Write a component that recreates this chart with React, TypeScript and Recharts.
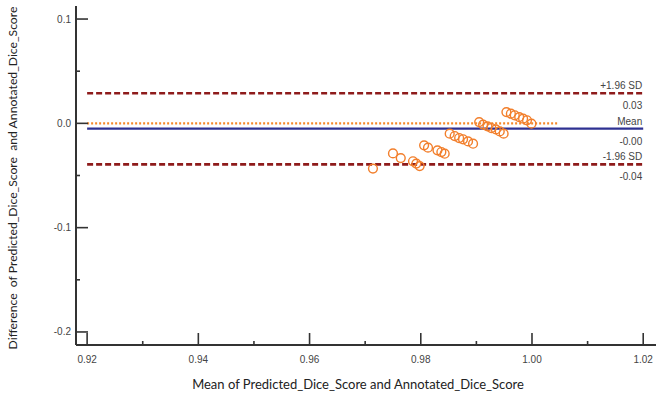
import { Label, ReferenceLine, Scatter, ScatterChart, XAxis, YAxis } from "recharts";

// Bland-Altman points
const meanValues = [
  0.9714, 0.975, 0.9764, 0.9786, 0.9792, 0.9798, 0.9806, 0.9813, 0.983, 0.9837, 0.9843,
  0.9852, 0.9861, 0.9869, 0.9876, 0.9885, 0.9894, 0.9905, 0.9912, 0.992, 0.9927, 0.9935,
  0.9942, 0.9949, 0.9954, 0.9962, 0.9969, 0.9977, 0.9984, 0.9991, 0.9999,
];
const diffValues = [
  -0.0434, -0.0288, -0.0333, -0.0364, -0.0386, -0.041, -0.0211, -0.0233, -0.0259, -0.0275, -0.0291,
  -0.0099, -0.0122, -0.0141, -0.0153, -0.0173, -0.0195, 0.0012, -0.0012, -0.0029, -0.0045, -0.0058,
  -0.0077, -0.0099, 0.0108, 0.0093, 0.0077, 0.006, 0.0045, 0.0029, -0.0003,
];

const xTicks = [0.92, 0.93, 0.94, 0.95, 0.96, 0.97, 0.98, 0.99, 1.0, 1.01, 1.02];
const yTicks = [0.1, 0.05, 0, -0.05, -0.1, -0.15, -0.2];

const upperLimit = 0.0288;
const meanDiff = -0.0051;
const lowerLimit = -0.0393;
const zeroLineEnd = 1.0046;
const lineStart = 0.92;
const lineEnd = 1.02;

const upperLabels = ["+1.96 SD", "0.03"];
const meanLabels = ["Mean", "-0.00"];
const lowerLabels = ["-1.96 SD", "-0.04"];

const xTitle = "Mean of Predicted_Dice_Score and Annotated_Dice_Score";
const yTitle = "Difference  of Predicted_Dice_Score  and Annotated_Dice_Score";

const data = meanValues.map((m, i) => ({ mean: m, diff: diffValues[i] }));

const tickFont = "'Liberation Sans', Arial, sans-serif";
const titleFont = "Lato, 'Open Sans', sans-serif";

function XTick({ x, y, payload }: any) {
  const v = payload.value as number;
  const major = Math.round(v * 100) % 2 === 0;
  return (
    <g>
      <line x1={x} x2={x} y1={y} y2={y - (major ? 12 : 4)} stroke="#333" strokeWidth={1.6} />
      {major && (
        <text x={x} y={y + 18} textAnchor="middle" fontSize={10} fontFamily={tickFont} fill="#444">
          {v.toFixed(2)}
        </text>
      )}
    </g>
  );
}

function YTick({ x, y, payload }: any) {
  const v = payload.value as number;
  const major = Math.round(v * 100) % 10 === 0;
  return (
    <g>
      <line x1={x} x2={x + (major ? 12 : 4)} y1={y} y2={y} stroke="#333" strokeWidth={1.6} />
      {major && (
        <text x={x - 5} y={y + 3.5} textAnchor="end" fontSize={10} fontFamily={tickFont} fill="#444">
          {v.toFixed(1)}
        </text>
      )}
    </g>
  );
}

const sideLabels = (labels: string[]) => (props: any) => {
  const vb = props.viewBox;
  const right = vb.x + vb.width - 1;
  return (
    <g fontSize={10} fontFamily={tickFont} fill="#444" textAnchor="end">
      <text x={right} y={vb.y - 4}>{labels[0]}</text>
      <text x={right} y={vb.y + 16}>{labels[1]}</text>
    </g>
  );
};

const openCircle = (props: any) => (
  <circle cx={props.cx} cy={props.cy} r={4.4} fill="none" stroke="#F27F2C" strokeWidth={1.4} />
);

export default function App() {
  return (
    <div style={{ position: "absolute", left: 0, top: 0, width: 656, height: 403, background: "#fff" }}>
      <ScatterChart width={656} height={403} margin={{ top: 6, right: 0, bottom: 0, left: 0 }}>
        <XAxis
          type="number"
          dataKey="mean"
          domain={[0.918, 1.0223]}
          ticks={xTicks}
          interval={0}
          allowDataOverflow
          height={58}
          tickSize={0}
          tickMargin={0}
          tickLine={false}
          tick={<XTick />}
          axisLine={{ stroke: "#333", strokeWidth: 2 }}
        >
          <Label
            content={() => (
              <text x={358} y={389} textAnchor="middle" fontSize={13} fontFamily={titleFont} fill="#222">
                {xTitle}
              </text>
            )}
          />
        </XAxis>
        <YAxis
          type="number"
          dataKey="diff"
          domain={[-0.2125, 0.1125]}
          ticks={yTicks}
          interval={0}
          allowDataOverflow
          width={76}
          tickSize={0}
          tickMargin={0}
          tickLine={false}
          tick={<YTick />}
          axisLine={{ stroke: "#333", strokeWidth: 2 }}
        >
          <Label
            content={() => (
              <text
                transform="translate(17,178) rotate(-90)"
                textAnchor="middle"
                fontSize={12.2}
                fontFamily={titleFont}
                fill="#222"
                style={{ whiteSpace: "pre" }}
              >
                {yTitle}
              </text>
            )}
          />
        </YAxis>
        <ReferenceLine
          segment={[{ x: lineStart, y: upperLimit }, { x: lineEnd, y: upperLimit }]}
          stroke="#8E1B1B"
          strokeWidth={2.6}
          strokeDasharray="6 3"
          label={{ content: sideLabels(upperLabels) }}
        />
        <ReferenceLine
          segment={[{ x: lineStart, y: 0 }, { x: zeroLineEnd, y: 0 }]}
          stroke="#F5892B"
          strokeWidth={2.4}
          strokeDasharray="2 2"
        />
        <ReferenceLine
          segment={[{ x: lineStart, y: meanDiff }, { x: lineEnd, y: meanDiff }]}
          stroke="#2E3192"
          strokeWidth={2.4}
          label={{ content: sideLabels(meanLabels) }}
        />
        <ReferenceLine
          segment={[{ x: lineStart, y: lowerLimit }, { x: lineEnd, y: lowerLimit }]}
          stroke="#8E1B1B"
          strokeWidth={2.6}
          strokeDasharray="6 3"
          label={{ content: sideLabels(lowerLabels) }}
        />
        <Scatter data={data} dataKey="diff" shape={openCircle} isAnimationActive={false} />
      </ScatterChart>
    </div>
  );
}
